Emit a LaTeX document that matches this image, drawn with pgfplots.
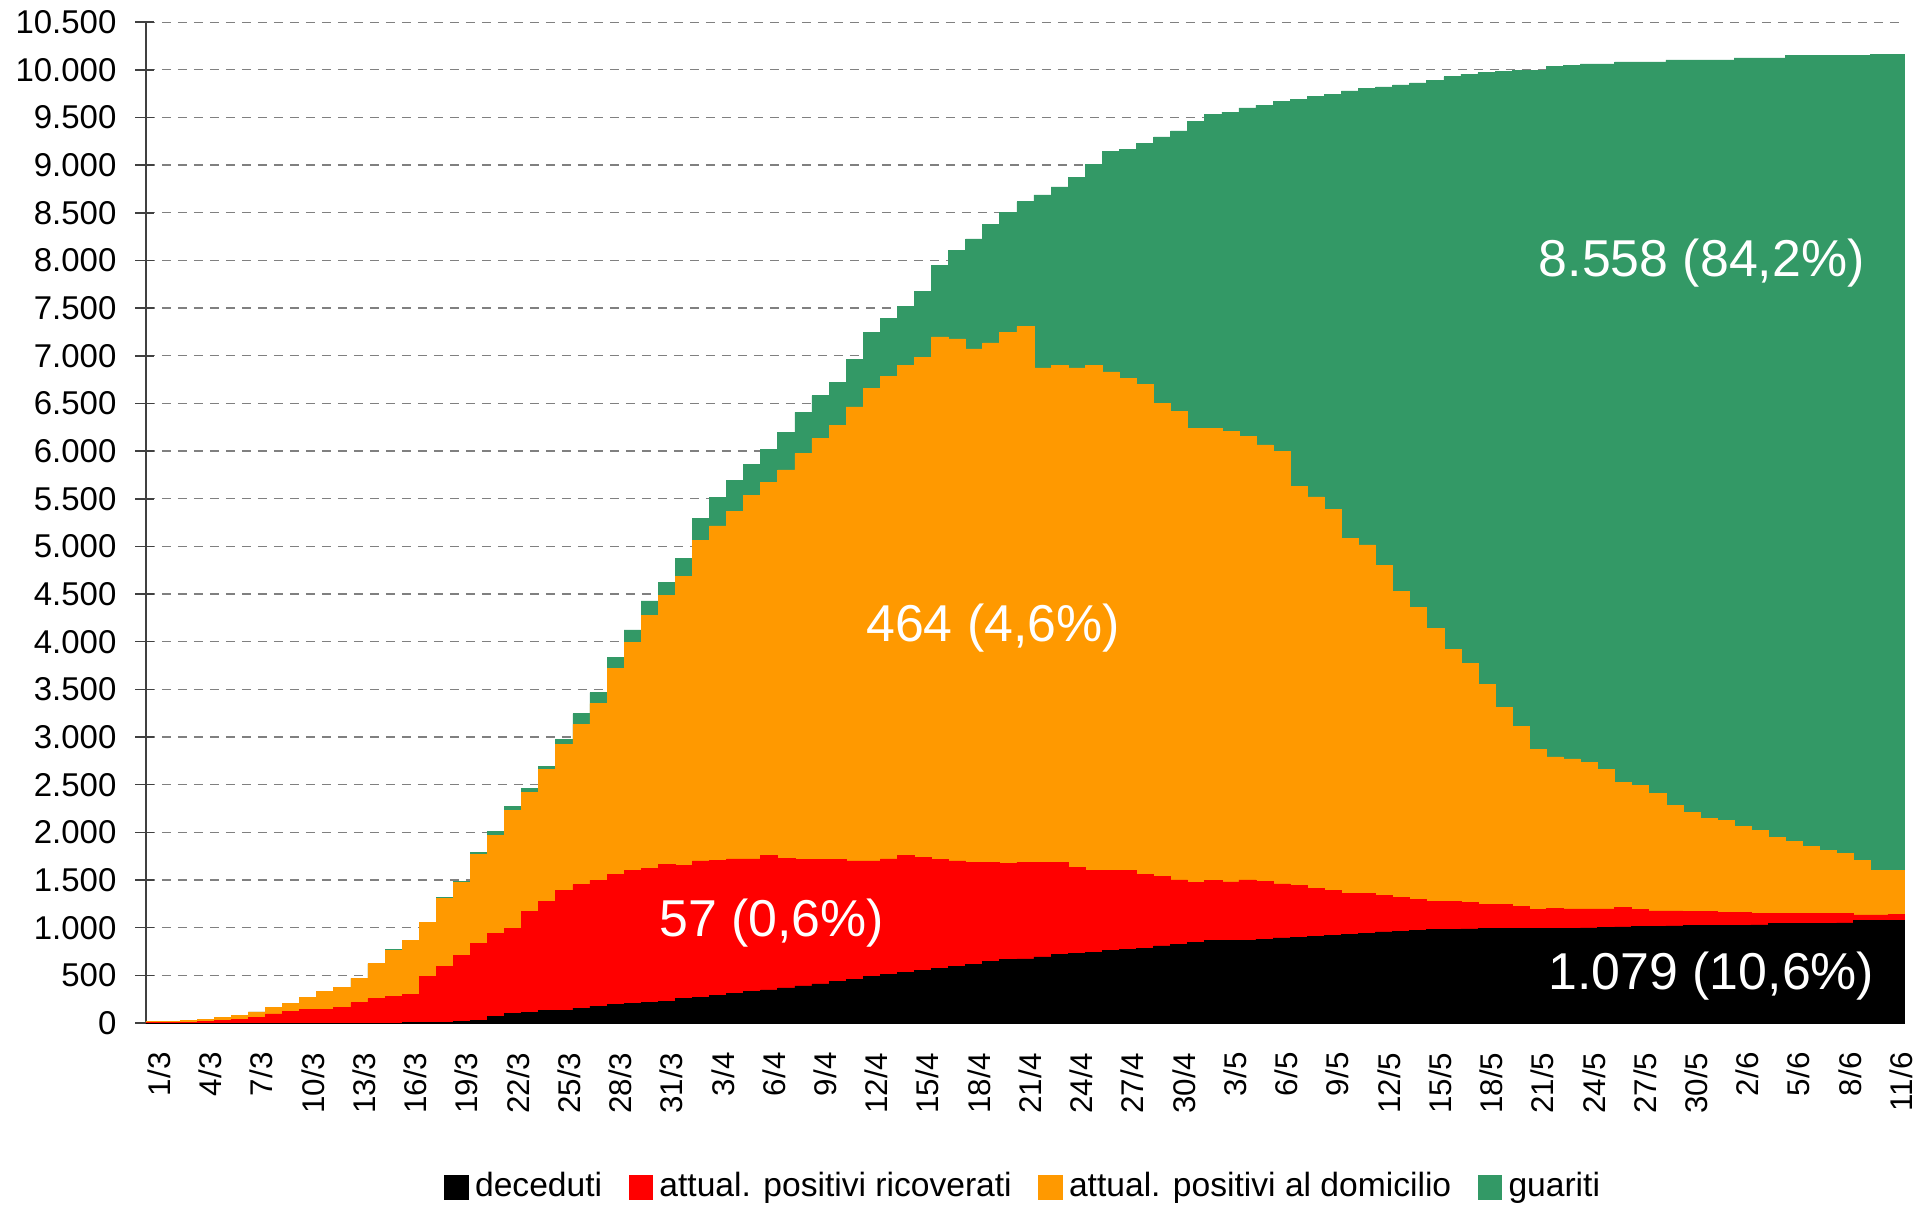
\documentclass[border=0pt]{standalone}
\usepackage{fontspec}
\setmainfont{Liberation Sans}
\usepackage{pgfplots}
\usepackage{pgfplotstable}
\pgfplotsset{compat=1.18}
\definecolor{cdec}{RGB}{0,0,0}
\definecolor{cric}{RGB}{255,0,0}
\definecolor{cdom}{RGB}{255,153,0}
\definecolor{cgua}{RGB}{51,153,102}
% cumulative stack tops: tot = all, dom = deceduti+ricoverati+domicilio, ric = deceduti+ricoverati, dec = deceduti
\pgfplotstableread{
i tot dom ric dec
0 20 20 5 0
1 20 20 5 0
2 28 28 5 0
3 35 35 17 0
4 57 57 28 0
5 80 80 40 0
6 117 117 59 0
7 163 163 95 0
8 205 205 120 0
9 269 269 142 0
10 333 333 142 0
11 375 375 163 0
12 468 468 213 0
13 623 623 255 0
14 772 765 276 0
15 864 864 298 5
16 1056 1056 489 5
17 1318 1304 595 10
18 1488 1474 709 21
19 1793 1771 836 28
20 2012 1970 942 71
21 2274 2232 992 99
22 2458 2416 1169 113
23 2692 2657 1275 135
24 2976 2919 1389 135
25 3245 3132 1452 156
26 3465 3351 1495 177
27 3833 3720 1559 191
28 4124 3989 1601 205
29 4428 4272 1622 220
30 4619 4485 1665 227
31 4874 4683 1651 255
32 5293 5059 1700 269
33 5512 5215 1707 290
34 5689 5363 1722 312
35 5859 5533 1722 333
36 6015 5668 1757 347
37 6192 5803 1729 368
38 6405 5973 1715 390
39 6582 6129 1715 411
40 6717 6270 1715 440
41 6965 6462 1700 460
42 7241 6653 1700 489
43 7390 6780 1722 510
44 7517 6894 1757 531
45 7673 6979 1736 553
46 7949 7198 1715 574
47 8105 7177 1700 595
48 8226 7071 1686 616
49 8374 7135 1686 645
50 8502 7241 1672 666
51 8615 7305 1686 673
52 8686 6872 1686 694
53 8771 6894 1686 716
54 8870 6872 1630 730
55 9005 6894 1601 744
56 9140 6830 1601 765
57 9168 6766 1601 772
58 9225 6695 1559 786
59 9295 6497 1537 808
60 9359 6412 1502 822
61 9458 6235 1474 843
62 9529 6235 1495 864
63 9555 6205 1480 864
64 9600 6150 1502 870
65 9628 6065 1488 880
66 9664 5994 1460 893
67 9685 5625 1445 900
68 9721 5519 1410 910
69 9742 5385 1389 921
70 9777 5080 1360 930
71 9806 5016 1360 940
72 9820 4797 1339 956
73 9841 4527 1318 962
74 9862 4357 1297 970
75 9891 4138 1275 985
76 9926 3918 1275 985
77 9954 3769 1261 988
78 9968 3550 1247 990
79 9983 3309 1247 990
80 9990 3110 1219 992
81 9997 2869 1190 992
82 10032 2791 1204 995
83 10043 2770 1197 995
84 10061 2730 1197 998
85 10061 2657 1197 1000
86 10082 2522 1212 1008
87 10082 2494 1190 1013
88 10082 2409 1176 1013
89 10103 2281 1176 1018
90 10103 2211 1169 1022
91 10103 2147 1169 1027
92 10103 2126 1162 1027
93 10124 2062 1162 1027
94 10124 2019 1148 1030
95 10124 1948 1148 1041
96 10146 1906 1148 1041
97 10146 1849 1148 1041
98 10146 1807 1148 1045
99 10146 1778 1148 1050
100 10153 1707 1134 1077
101 10158 1601 1134 1077
102 10158 1600 1136 1079
}\datatable

\begin{document}
\begin{tikzpicture}
\useasboundingbox (-45.6pt,-56.9pt) rectangle (556.6pt,319.7pt);
\begin{axis}[
  at={(0,0)}, anchor=south west,
  scale only axis, width=549.7pt, height=312.8pt,
  xmin=-0.5, xmax=102.5, ymin=0, ymax=10500,
  axis x line*=bottom, axis y line*=left,
  x axis line style={black, line width=0.5pt},
  y axis line style={black!75, line width=0.5pt},
  tick align=outside,
  ybar, bar width=1,
  ytick={0,500,...,10500},
  scaled y ticks=false,
  /pgf/number format/assume math mode=true,
  /pgf/number format/1000 sep={.},
  ymajorgrids,
  major grid style={gray, line width=0.35pt, dash pattern=on 2.7pt off 2.3pt},
  ytick style={black!75, line width=0.5pt, xshift=2.4pt},
  major tick length=5.7pt,
  yticklabel style={font=\fontsize{10.3}{12}\selectfont, xshift=0pt},
  xtick={0,3,...,102},
  xticklabels={1/3,4/3,7/3,10/3,13/3,16/3,19/3,22/3,25/3,28/3,31/3,3/4,6/4,9/4,12/4,15/4,18/4,21/4,24/4,27/4,30/4,3/5,6/5,9/5,12/5,15/5,18/5,21/5,24/5,27/5,30/5,2/6,5/6,8/6,11/6},
  xtick style={draw=none},
  minor xtick={-0.5,0.5,...,102.5},
  minor tick length=3.1pt,
  minor x tick style={black!70, line width=0.45pt},
  xticklabel style={font=\fontsize{9.8}{12}\selectfont, rotate=90, anchor=east, yshift=-1.5pt},
  legend style={at={(0.5,0)}, anchor=center, yshift=-51.25pt, draw=none, fill=none,
    font=\fontsize{10.5}{12}\selectfont,
    /tikz/every even column/.append style={column sep=6.3pt}},
  legend columns=4,
  reverse legend,
  legend image code/.code={\fill[#1] (0pt,-3.7pt) rectangle (7.4pt,3.7pt);},
]
\addplot[fill=cgua, draw=cgua, line width=0.2pt, bar shift=0pt] table[x=i,y=tot]{\datatable};
\addlegendentry{guariti}
\addplot[fill=cdom, draw=cdom, line width=0.2pt, bar shift=0pt] table[x=i,y=dom]{\datatable};
\addlegendentry{attual. positivi al domicilio}
\addplot[fill=cric, draw=cric, line width=0.2pt, bar shift=0pt] table[x=i,y=ric]{\datatable};
\addlegendentry{attual. positivi ricoverati}
\addplot[fill=cdec, draw=cdec, line width=0.2pt, bar shift=0pt] table[x=i,y=dec]{\datatable};
\addlegendentry{deceduti}
\node[text=white, font=\fontsize{16.2}{19}\selectfont] at (axis cs:90.6,7975) {8.558 (84,2\%)};
\node[text=white, font=\fontsize{16.2}{19}\selectfont] at (axis cs:49.1,4145) {464 (4,6\%)};
\node[text=white, font=\fontsize{16.2}{19}\selectfont] at (axis cs:36.15,1050) {57 (0,6\%)};
\node[text=white, font=\fontsize{16.2}{19}\selectfont] at (axis cs:91.17,490) {1.079 (10,6\%)};
\end{axis}
\end{tikzpicture}
\end{document}
